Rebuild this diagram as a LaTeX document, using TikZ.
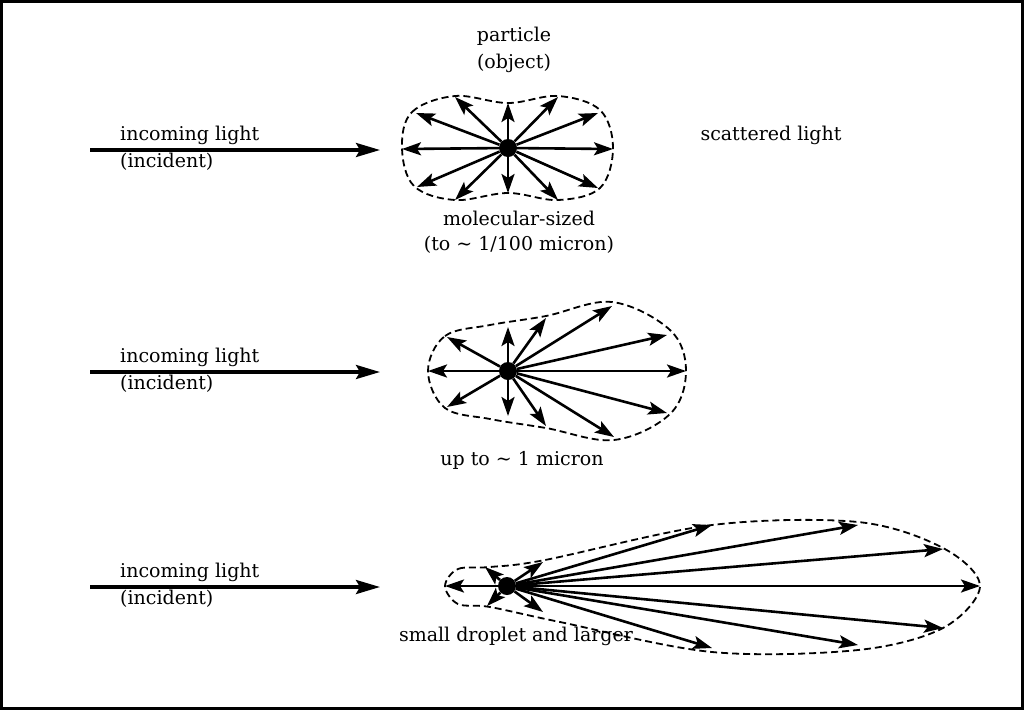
\documentclass[tikz,border=0pt]{standalone}
\usepackage{fontspec}
\setmainfont{DejaVu Serif}
\usetikzlibrary{arrows.meta}
\tikzset{
  ray/.style={line width=2.6pt, -{Stealth[length=19pt,width=13pt,inset=4pt]}},
  beam/.style={line width=3.4pt, -{Stealth[length=24pt,width=14pt,inset=4pt]}},
  lobe/.style={line width=1.8pt, dash pattern=on 7pt off 4pt},
  dot/.style={circle, fill, inner sep=0pt, minimum size=18pt},
  lbl/.style={font=\fontsize{19}{22}\selectfont, inner sep=0pt}
}
\begin{document}
\begin{tikzpicture}[x=1pt, y=-1pt]
  \draw[line width=3pt] (1.5,1.5) rectangle (1022.5,708.5);
  \useasboundingbox (0,0) rectangle (1024,710);

  % Labels
  \node[lbl] (part) at (514,36) {particle};
  \node[lbl] (obj) at (514,63) {(object)};
  \node[lbl] (scat) at (771,135) {scattered light};
  \node[lbl] (mol) at (519,218) {molecular-sized};
  \node[lbl] (molb) at (519,245) {(to \textasciitilde{} 1/100 micron)};
  \node[lbl] (mic) at (522,460) {up to \textasciitilde{} 1 micron};
  \node[lbl] (drop) at (516,636) {small droplet and larger};

  % Incoming light
  \foreach \n/\y in {a/150, b/372, c/587} {
    \coordinate (in\n) at (90,\y);
    \coordinate (hit\n) at (380,\y);
    \draw[beam] (in\n) -- (hit\n);
    \node[lbl, anchor=west] at (120,\y-15) {incoming light};
    \node[lbl, anchor=west] at (120,\y+12) {(incident)};
  }

  % Top: molecular
  \node[dot] (pa) at (508,148) {};
  \draw[lobe] plot[smooth cycle, tension=0.6] coordinates {(402,148) (412,112) (455,96) (508,103)
    (558,96) (600,110) (613,148) (600,188) (558,200) (508,193) (455,200) (414,186)};
  \foreach \p in {(508,103),(402,149),(613,149),(508,193),(416,113),(455,97),(558,97),(598,113),
    (417,187),(455,200),(558,200),(598,188)}
    \draw[ray] (pa) -- \p;

  % Middle: up to 1 micron
  \node[dot] (pb) at (508,371) {};
  \draw[lobe] plot[smooth cycle, tension=0.6] coordinates {(428,371) (445,336) (490,325) (546,316)
    (612,302) (670,330) (686,371) (670,414) (614,440) (546,428) (490,419) (445,408)};
  \foreach \p in {(508,327),(428,371),(686,371),(508,416),(447,337),(447,407),(546,318),(612,306),
    (667,335),(667,413),(614,437),(546,426)}
    \draw[ray] (pb) -- \p;

  % Bottom: droplet
  \node[dot] (pc) at (507,586) {};
  \draw[lobe] plot[smooth cycle, tension=0.55] coordinates {(445,586) (458,569) (490,567) (545,560)
    (712,525) (858,522) (943,548) (980,586) (943,628) (858,650) (712,652) (560,622) (490,607) (458,604)};
  \foreach \p in {(445,586),(980,586),(712,525),(858,525),(943,549),(943,628),(858,645),(712,648),
    (485,567),(487,606),(543,562),(543,612)}
    \draw[ray] (pc) -- \p;
\end{tikzpicture}
\end{document}
